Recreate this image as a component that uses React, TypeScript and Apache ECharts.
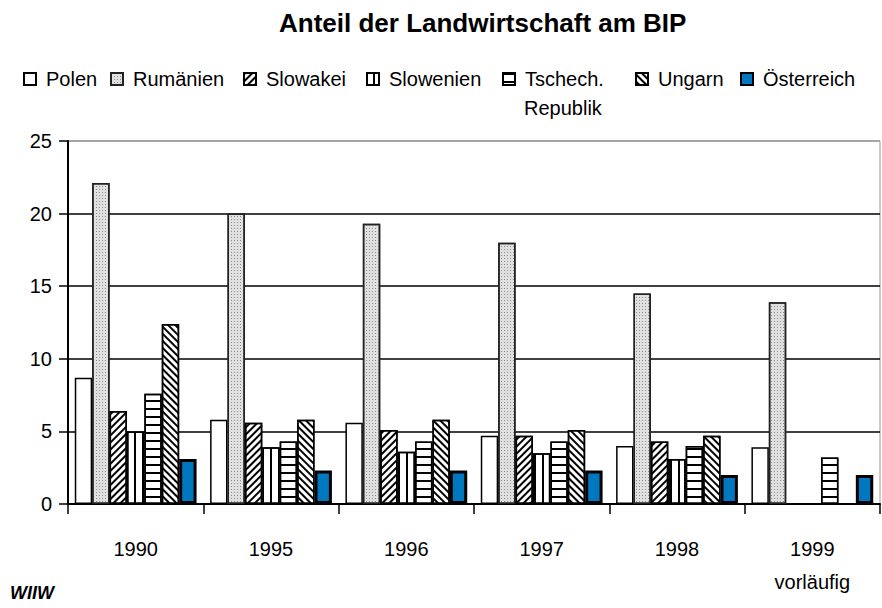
import React, { useEffect, useRef } from "react";
import * as echarts from "echarts";

const categories = ["1990", "1995", "1996", "1997", "1998", "1999\nvorläufig"];
const seriesNames = ["Polen", "Rumänien", "Slowakei", "Slowenien", "Tschech. Republik", "Ungarn", "Österreich"];
const polen = [8.7, 5.8, 5.6, 4.7, 4.0, 3.9];
const rumaenien = [22.1, 20.0, 19.3, 18.0, 14.5, 13.9];
const slowakei = [6.4, 5.6, 5.1, 4.7, 4.3, null];
const slowenien = [5.0, 3.9, 3.6, 3.5, 3.1, null];
const tschechien = [7.6, 4.3, 4.3, 4.3, 4.0, 3.2];
const ungarn = [12.4, 5.8, 5.8, 5.1, 4.7, null];
const oesterreich = [3.1, 2.3, 2.3, 2.3, 2.0, 2.0];
const values = [polen, rumaenien, slowakei, slowenien, tschechien, ungarn, oesterreich];
const yTicks = [0, 5, 10, 15, 20, 25];

const FONT = "'Liberation Sans', Arial, sans-serif";

const styles: any[] = [
  { color: "#ffffff", borderColor: "#000", borderWidth: 1.5 },
  {
    color: "#e0e0e0", borderColor: "#222", borderWidth: 1.5,
    decal: { symbol: "rect", symbolSize: 1, dashArrayX: [1, 2], dashArrayY: [1, 2], color: "#8e8e8e" },
  },
  {
    color: "#ffffff", borderColor: "#000", borderWidth: 1.5,
    decal: { symbol: "rect", symbolSize: 1, dashArrayX: [1, 0], dashArrayY: [1.4, 2.4], rotation: -Math.PI / 4, color: "#000" },
  },
  {
    color: "#ffffff", borderColor: "#000", borderWidth: 1.5,
    decal: { symbol: "rect", symbolSize: 1, dashArrayX: [1, 0], dashArrayY: [1.5, 6], rotation: Math.PI / 2, color: "#000" },
  },
  {
    color: "#ffffff", borderColor: "#000", borderWidth: 1.5,
    decal: { symbol: "rect", symbolSize: 1, dashArrayX: [1, 0], dashArrayY: [1.5, 5.5], rotation: 0, color: "#000" },
  },
  {
    color: "#ffffff", borderColor: "#000", borderWidth: 1.5,
    decal: { symbol: "rect", symbolSize: 1, dashArrayX: [1, 0], dashArrayY: [1.2, 2.2], rotation: Math.PI / 4, color: "#000" },
  },
  { color: "#0078c0", borderColor: "#000", borderWidth: 3 },
];

const legendLefts = [23, 110, 243, 366, 502, 635, 740];

export default function App() {
  const ref = useRef<HTMLDivElement>(null);
  useEffect(() => {
    const chart = echarts.init(ref.current!, null, { renderer: "svg" });
    chart.setOption({
      animation: false,
      backgroundColor: "#ffffff",
      title: {
        text: "Anteil der Landwirtschaft am BIP",
        left: 274,
        top: 5,
        textStyle: { fontFamily: FONT, fontSize: 26, fontWeight: "bold", color: "#000" },
      },
      legend: seriesNames.map((n, i) => ({
        data: [n],
        left: legendLefts[i],
        top: 69,
        padding: 0,
        icon: "rect",
        itemWidth: 12,
        itemHeight: 12,
        selectedMode: false,
        formatter: (name: string) => (name === "Tschech. Republik" ? "Tschech." : name),
        textStyle: { fontFamily: FONT, fontSize: 20, color: "#000", padding: [0, 0, 0, 5] },
      })),
      graphic: [
        {
          type: "text",
          left: 524,
          top: 98,
          style: { text: "Republik", font: `20px ${FONT}`, fill: "#000" },
        },
        {
          type: "text",
          left: 10,
          top: 584,
          style: { text: "WIIW", font: `italic bold 18px ${FONT}`, fill: "#000" },
        },
      ],
      grid: {
        left: 68,
        right: 2,
        top: 141,
        bottom: 104,
        show: true,
        borderColor: "#999",
        borderWidth: 1,
      },
      xAxis: {
        type: "category",
        data: categories,
        axisLine: { lineStyle: { color: "#000", width: 2 } },
        axisTick: { show: true, length: 10, lineStyle: { color: "#000", width: 1.5 } },
        axisLabel: { fontFamily: FONT, fontSize: 20, color: "#000", margin: 28, lineHeight: 33 },
      },
      yAxis: {
        type: "value",
        min: yTicks[0],
        max: yTicks[yTicks.length - 1],
        interval: 5,
        axisLine: { show: true, lineStyle: { color: "#000", width: 2 } },
        axisTick: { show: true, length: 9, lineStyle: { color: "#000", width: 1.5 } },
        axisLabel: { fontFamily: FONT, fontSize: 20, color: "#000", margin: 16 },
        splitLine: { lineStyle: { color: ["#000", "#000", "#000", "#000", "#000", "#999"], width: 1.5 } },
      },
      series: seriesNames.map((n, i) => ({
        name: n,
        type: "bar",
        data: values[i].map((v) => (v === null ? "-" : v)),
        barGap: "0%",
        barCategoryGap: "10%",
        itemStyle: styles[i],
      })),
    });
    return () => chart.dispose();
  }, []);
  return <div ref={ref} style={{ position: "fixed", left: 0, top: 0, width: 882, height: 608 }} />;
}
